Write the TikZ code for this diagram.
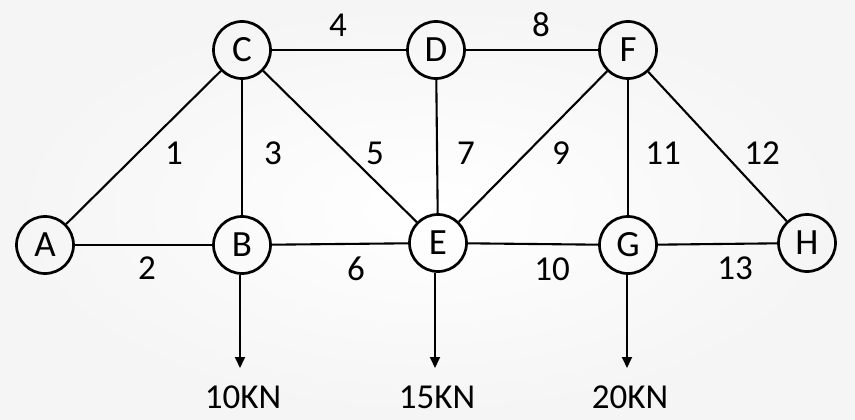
\documentclass[tikz,border=0pt]{standalone}
\usepackage{fontspec}
\setmainfont{Carlito}
\usetikzlibrary{arrows.meta}
\begin{document}
\begin{tikzpicture}[x=1pt,y=-1pt,
  joint/.style={circle,draw,line width=2.7pt,minimum size=57pt,inner sep=0pt,font=\fontsize{37}{42}\selectfont},
  member/.style={line width=2.1pt},
  lbl/.style={font=\fontsize{35}{40}\selectfont,inner sep=0pt},
  load/.style={line width=2pt,-{Triangle[length=11pt,width=10pt]}}]
\shade[inner color=white,outer color=gray!8] (0,0) rectangle (855,420);
\useasboundingbox (0,0) rectangle (855,420);
\node[joint] (A) at (45,245) {A};
\node[joint] (B) at (242,245) {B};
\node[joint] (C) at (242,50) {C};
\node[joint] (D) at (436,50) {D};
\node[joint] (F) at (628,50) {F};
\node[joint] (E) at (438,243) {E};
\node[joint] (G) at (628,245) {G};
\node[joint] (H) at (807,243) {H};
\draw[member] (A) -- (C);
\draw[member] (A) -- (B);
\draw[member] (C) -- (B);
\draw[member] (C) -- (D);
\draw[member] (C) -- (E);
\draw[member] (B) -- (E);
\draw[member] (D) -- (E);
\draw[member] (D) -- (F);
\draw[member] (E) -- (F);
\draw[member] (E) -- (G);
\draw[member] (F) -- (G);
\draw[member] (F) -- (H);
\draw[member] (G) -- (H);
\node[lbl] (l1) at (174,153) {1};
\node[lbl] (l2) at (147,268) {2};
\node[lbl] (l3) at (273,153) {3};
\node[lbl] (l4) at (338,25) {4};
\node[lbl] (l5) at (375,153) {5};
\node[lbl] (l6) at (356,269) {6};
\node[lbl] (l7) at (466,153) {7};
\node[lbl] (l8) at (541,25) {8};
\node[lbl] (l9) at (561,153) {9};
\node[lbl] (l10) at (552,269) {10};
\node[lbl] (l11) at (663,153) {11};
\node[lbl] (l12) at (762,153) {12};
\node[lbl] (l13) at (735,268) {13};
\coordinate (bB) at (240,368);
\coordinate (bE) at (435,368);
\coordinate (bG) at (627,368);
\draw[load] (B.south) ++(-2,0) -- (bB);
\draw[load] (E) ++(-3,30) -- (bE);
\draw[load] (G.south) ++(-1,0) -- (bG);
\node[lbl] (f1) at (243,397) {10KN};
\node[lbl] (f2) at (437,397) {15KN};
\node[lbl] (f3) at (630,397) {20KN};
\end{tikzpicture}
\end{document}
